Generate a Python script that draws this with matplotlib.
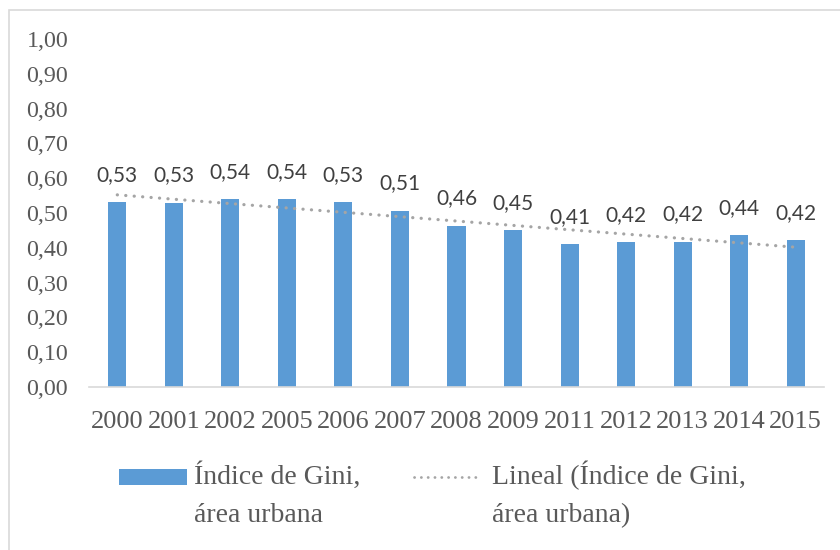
import numpy as np
import matplotlib
matplotlib.use("Agg")
import matplotlib.pyplot as plt
from matplotlib.patches import Rectangle
from matplotlib.lines import Line2D

years = ["2000", "2001", "2002", "2005", "2006", "2007", "2008",
         "2009", "2011", "2012", "2013", "2014", "2015"]
gini = [0.531, 0.530, 0.541, 0.541, 0.531, 0.507, 0.464,
        0.452, 0.410, 0.416, 0.418, 0.436, 0.423]
yticks = [0.0, 0.1, 0.2, 0.3, 0.4, 0.5, 0.6, 0.7, 0.8, 0.9, 1.0]
label_bar = "Índice de Gini,\nárea urbana"
label_trend = "Lineal (Índice de Gini,\nárea urbana)"

BLUE = "#5B9BD5"
TREND = "#A5A5A5"
GRAY_TXT = "#595959"
SERIF = ["Liberation Serif", "DejaVu Serif"]

fig = plt.figure(figsize=(8.4, 5.5), dpi=100)
ax = fig.add_axes([89/840, 1 - 387/550, (824-89)/840, (387-39)/550])

x = np.arange(len(years))
ax.bar(x, gini, width=0.32, color=BLUE, zorder=2)

# linear trendline (Excel style, x = 1..n)
coef = np.polyfit(x + 1, gini, 1)
trend = np.polyval(coef, x + 1)
DOT = (0, (0.05, 2.6))
ax.plot(x, trend, color=TREND, lw=2.3, linestyle=DOT,
        dash_capstyle="round", zorder=3)

for xi, v in zip(x, gini):
    ax.annotate(f"{v:.2f}".replace(".", ","), (xi, v), xytext=(0, 19.5),
                textcoords="offset points", ha="center", va="center",
                fontsize=15, color="#404040", family=["Lato", "DejaVu Sans"])

ax.set_xlim(-0.5, len(years) - 0.5)
ax.set_ylim(0, 1.0)
ax.set_yticks(yticks)
ax.set_yticklabels([f"{t:.2f}".replace(".", ",") for t in yticks])
ax.set_xticks(x)
ax.set_xticklabels(years)
for s in ["top", "right", "left"]:
    ax.spines[s].set_visible(False)
ax.spines["bottom"].set_color("#D9D9D9")
ax.spines["bottom"].set_linewidth(1.2)
ax.tick_params(axis="both", length=0, colors=GRAY_TXT)
ax.tick_params(axis="y", pad=15)
ax.tick_params(axis="x", pad=17)
for lab in ax.get_yticklabels():
    lab.set_family(SERIF)
    lab.set_fontsize(17.3)
for lab in ax.get_xticklabels():
    lab.set_family(SERIF)
    lab.set_fontsize(19)

# legend drawn in figure pixel coordinates
def fx(px):
    return px / 840

def fy(py):
    return 1 - py / 550

fig.patches.append(Rectangle((fx(119), fy(485)), fx(187) - fx(119), fy(469) - fy(485),
                             transform=fig.transFigure, facecolor=BLUE,
                             edgecolor="none"))
fig.lines.append(Line2D([fx(414), fx(480)], [fy(477), fy(477)],
                        transform=fig.transFigure, color=TREND, lw=2.0,
                        linestyle=(0, (0.05, 2.4)), dash_capstyle="round"))
for x0, lab in [(194, label_bar), (492, label_trend)]:
    for i, line in enumerate(lab.split("\n")):
        fig.text(fx(x0), fy(484 + 38 * i), line, ha="left", va="baseline",
                 fontsize=20, family=SERIF, color=GRAY_TXT)

fig.patches.append(Rectangle((fx(9), -0.1), 1.2, fy(10) + 0.1,
                             transform=fig.transFigure, fill=False,
                             edgecolor="#D9D9D9", lw=1.2))

fig.savefig("out.png", dpi=100)
